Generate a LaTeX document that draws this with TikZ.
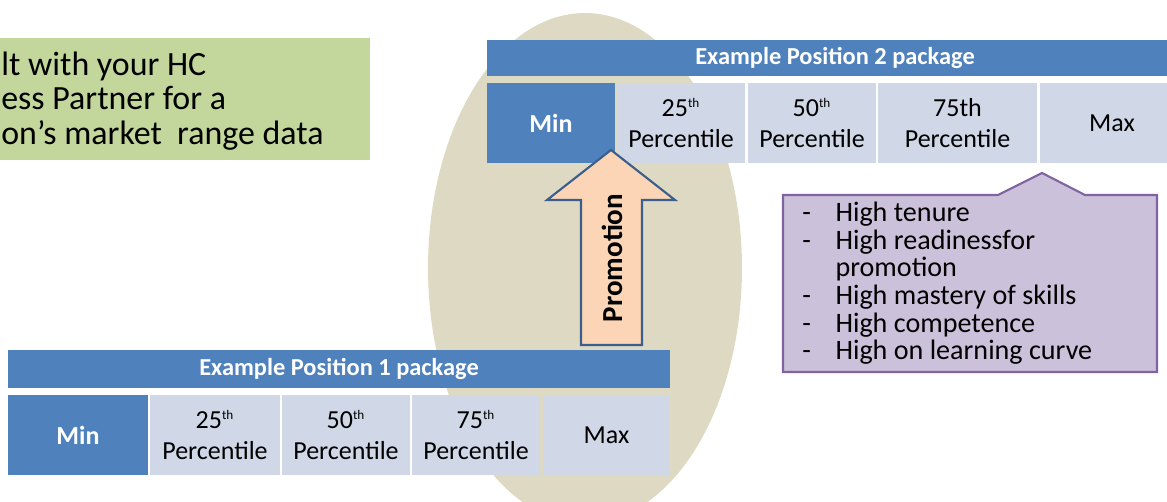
\documentclass[tikz,border=0pt]{standalone}
\usepackage{fontspec}
\setmainfont{Carlito}
\usepackage{tikz}
\usetikzlibrary{positioning}

\definecolor{headblue}{HTML}{4F81BD}
\definecolor{cellblue}{HTML}{D0D8E8}
\definecolor{sand}{HTML}{DDD9C3}
\definecolor{leaf}{HTML}{C3D69B}
\definecolor{peach}{HTML}{FBD5B5}
\definecolor{arrowline}{HTML}{3B5E8C}
\definecolor{lilac}{HTML}{CCC1DA}
\definecolor{lilacline}{HTML}{8064A2}

\newcommand{\tinyth}{\textsuperscript{\fontsize{7.5}{8}\selectfont th}}

\tikzset{
  headrow/.style={fill=headblue, text=white, inner sep=0pt, font=\fontsize{13.9}{16}\selectfont\bfseries},
  mincell/.style={fill=headblue, text=white, inner sep=0pt, minimum height=1.6cm, font=\fontsize{14.8}{17.6}\selectfont\bfseries},
  pcell/.style={fill=cellblue, text=black, inner sep=0pt, minimum height=1.6cm, align=center, font=\fontsize{14.8}{17.6}\selectfont},
}

\begin{document}
\begin{tikzpicture} [x=0.02cm, y=-0.02cm]

\useasboundingbox (0,0) rectangle (1167,502);
\clip (0,0) rectangle (1167,502);

\fill [sand] (585,268) ellipse [x radius=3.14cm, y radius=5.1cm];

%\draw [help lines, step=50](0,0) grid (1167,502);
\fill [leaf] (0,38) rectangle (370,160);
\node [anchor=west, inner sep=0pt, align=left, font=\fontsize{19.3}{19.8}\selectfont] (consult) at (1,101)
  {lt with your HC\\ess Partner for a\\on’s market\ \ range data};

% position 2
\node [headrow, minimum width=13.92cm, minimum height=0.72cm] (headB) at (835,58) {Example Position 2 package};
\node [mincell, minimum width=2.56cm] (minB) at (551,123) {Min};
\node [pcell, minimum width=2.56cm] (lowB) at (681,123) {25\tinyth\\Percentile};
\node [pcell, minimum width=2.56cm] (midB) at (812,123) {50\tinyth\\Percentile};
\node [pcell, minimum width=3.18cm] (highB) at (957.5,123) {75th\\Percentile};
\node [pcell, minimum width=2.9cm] (maxB) at (1112,123) {Max};

% position 1
\node [headrow, minimum width=13.24cm, minimum height=0.76cm] (headA) at (339,369) {Example Position 1 package};
\node [mincell, minimum width=2.8cm] (minA) at (78,435) {Min};
\node [pcell, minimum width=2.6cm] (lowA) at (215,435) {25\tinyth\\Percentile};
\node [pcell, minimum width=2.56cm] (midA) at (346,435) {50\tinyth\\Percentile};
\node [pcell, minimum width=2.56cm] (highA) at (476,435) {75\tinyth\\Percentile};
\node [pcell, minimum width=2.54cm] (maxA) at (606.5,435) {Max};

% promotion arrow
\draw [fill=peach, draw=arrowline, line width=1.2pt, line join=miter]
  (581,345) -- (581,200) -- (547,200) -- (611,150) -- (675,200) -- (642,200) -- (642,345) -- cycle;
\node [rotate=90, inner sep=0pt, font=\fontsize{16.5}{18}\selectfont\bfseries] (promo) at (612,258) {Promotion};

% callout
\draw [fill=lilac, draw=lilacline, line width=1.2pt]
  (783,195) -- (998,195) -- (1042,173) -- (1085,195) -- (1157,195) -- (1157,372) -- (783,372) -- cycle;
\node [anchor=west, inner sep=0pt, font=\fontsize{16}{15.3}\selectfont] (traits) at (802,285)
  {\begin{tabular}{@{}l@{\hspace{14pt}}l@{}}
   - & High tenure\\
   - & High readinessfor\\
     & promotion\\
   - & High mastery of skills\\
   - & High competence\\
   - & High on learning curve
   \end{tabular}};

\end{tikzpicture}
\end{document}
